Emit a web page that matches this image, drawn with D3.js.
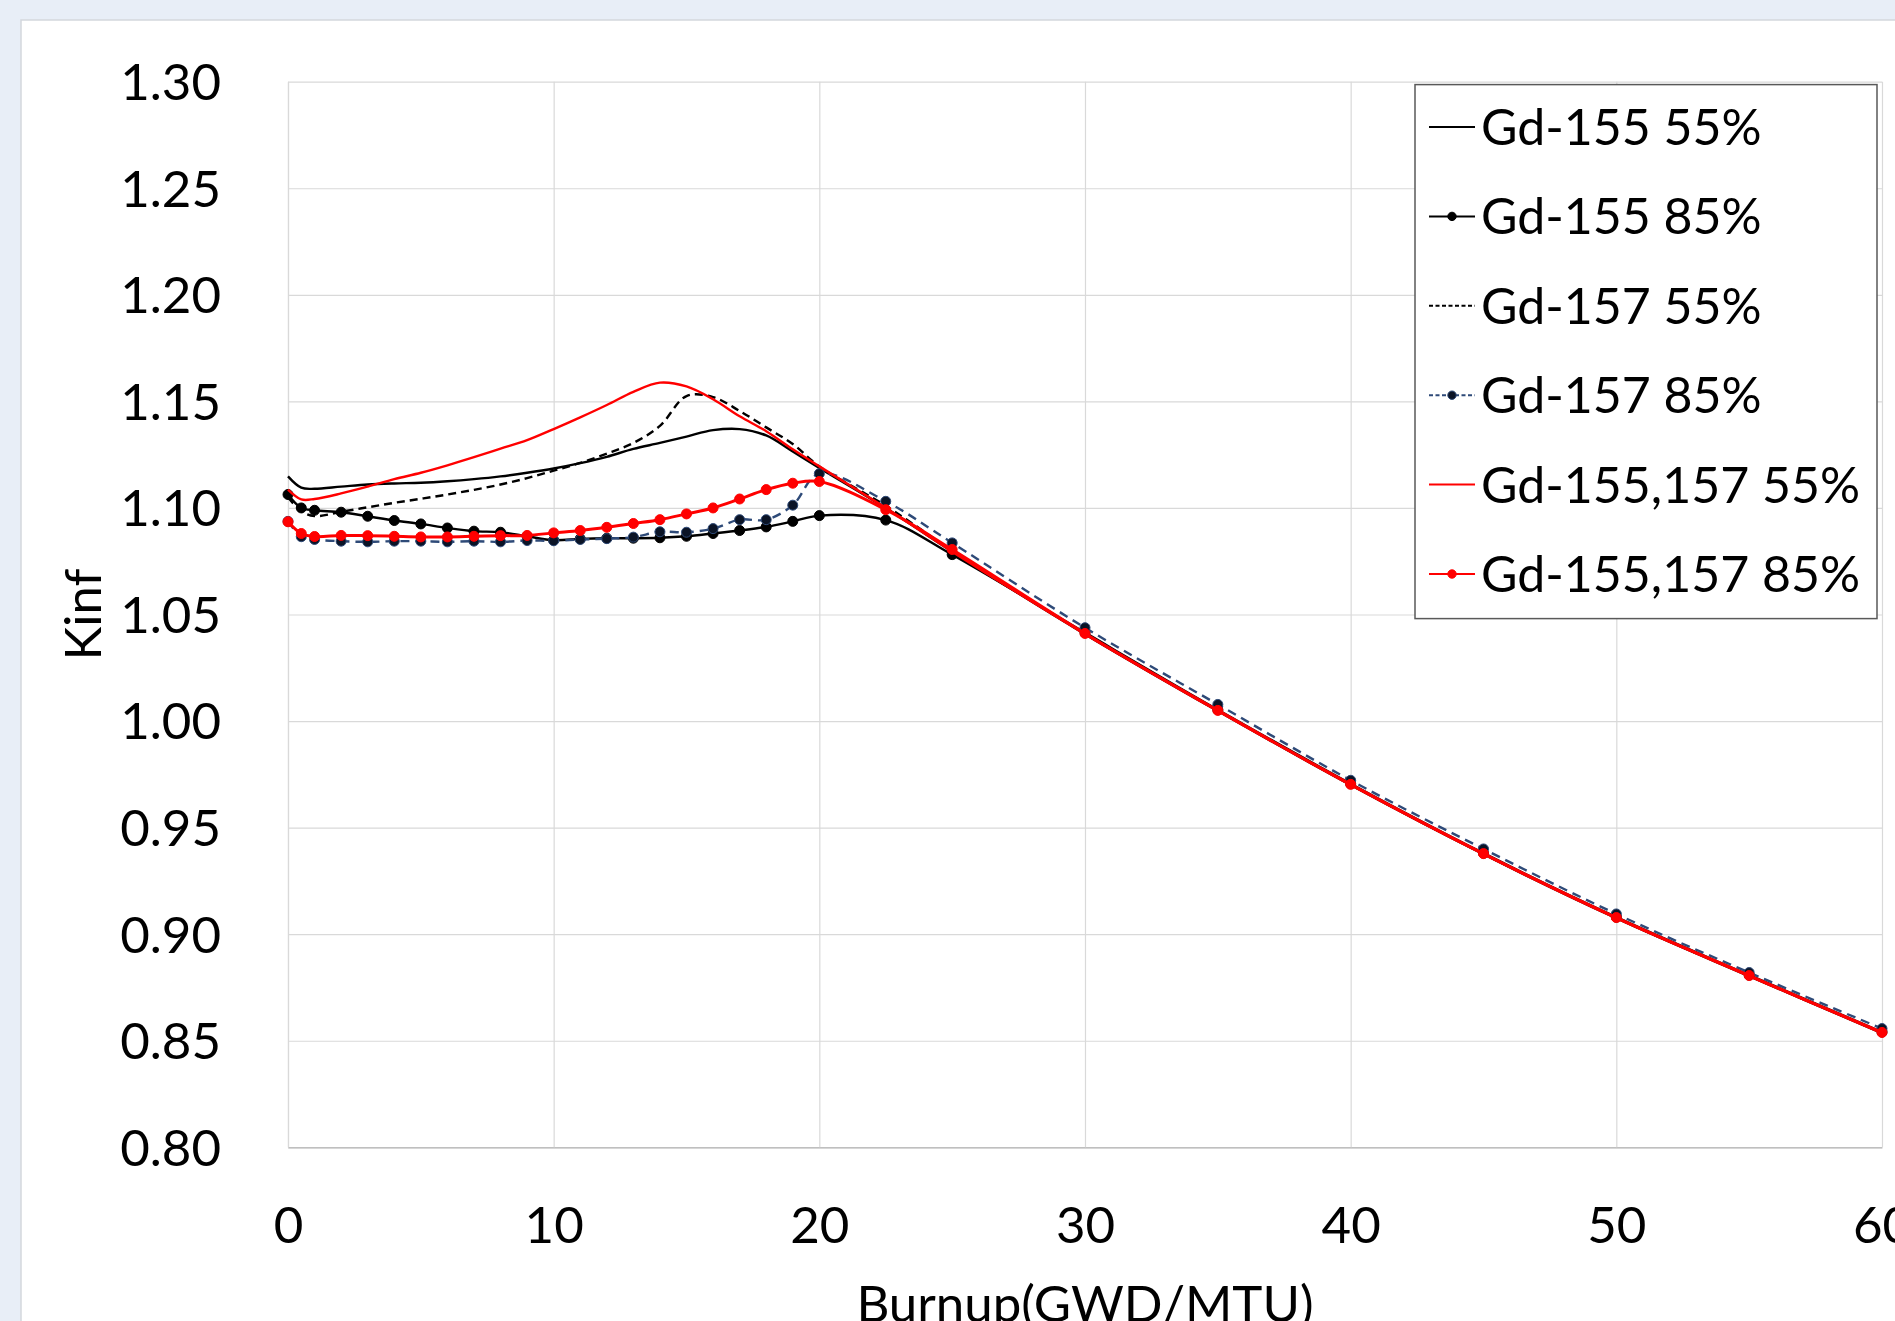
<!DOCTYPE html>
<html>
<head>
<meta charset="utf-8">
<script src="https://cdn.jsdelivr.net/npm/d3@7"></script>
<style>
  html, body { margin: 0; padding: 0; background: #e8eef7; }
  svg { display: block; }
  text { font-family: Lato, "Noto Sans", sans-serif; fill: #000; }
</style>
</head>
<body>
<div id="chart"></div>
<script>
// burnup points (GWD/MTU)
const burnup = [0, 0.5, 1, 2, 3, 4, 5, 6, 7, 8, 9, 10, 11, 12, 13, 14, 15, 16, 17, 18, 19, 20, 22.5, 25, 30, 35, 40, 45, 50, 55, 60];

const gd155_55 = [1.1148, 1.1095, 1.1090, 1.1100, 1.1110, 1.1115, 1.1118, 1.1125, 1.1135, 1.1148, 1.1165, 1.1185, 1.1210, 1.1240, 1.1277, 1.1305, 1.1335, 1.1365, 1.1370, 1.1340, 1.1265, 1.1188, 1.1000, 1.0795, 1.0408, 1.0047, 0.9700, 0.9375, 0.9075, 0.8803, 0.8536];
const gd155_85 = [1.1063, 1.1000, 1.0989, 1.0980, 1.0961, 1.0941, 1.0925, 1.0906, 1.0891, 1.0886, 1.0867, 1.0849, 1.0855, 1.0858, 1.0858, 1.0860, 1.0867, 1.0880, 1.0894, 1.0911, 1.0937, 1.0964, 1.0943, 1.0781, 1.0415, 1.0053, 0.9706, 0.9380, 0.9080, 0.8808, 0.8541];
const gd157_55 = [1.1050, 1.0985, 1.0962, 1.0982, 1.1003, 1.1024, 1.1043, 1.1063, 1.1085, 1.1110, 1.1140, 1.1175, 1.1211, 1.1255, 1.1305, 1.1385, 1.1525, 1.1520, 1.1455, 1.1378, 1.1300, 1.1195, 1.1010, 1.0800, 1.0410, 1.0050, 0.9702, 0.9377, 0.9077, 0.8805, 0.8538];
const gd157_85 = [1.0937, 1.0865, 1.0852, 1.0844, 1.0841, 1.0844, 1.0844, 1.0841, 1.0844, 1.0841, 1.0847, 1.0846, 1.0852, 1.0856, 1.0863, 1.0888, 1.0886, 1.0903, 1.0945, 1.0945, 1.1013, 1.1161, 1.1031, 1.0836, 1.0438, 1.0078, 0.9722, 0.9400, 0.9095, 0.8820, 0.8557];
const gd155157_55 = [1.1086, 1.1040, 1.1042, 1.1068, 1.1100, 1.1135, 1.1165, 1.1200, 1.1238, 1.1278, 1.1318, 1.1370, 1.1425, 1.1483, 1.1545, 1.1588, 1.1570, 1.1510, 1.1430, 1.1360, 1.1275, 1.1195, 1.1000, 1.0795, 1.0408, 1.0047, 0.9700, 0.9375, 0.9075, 0.8803, 0.8536];
const gd155157_85 = [1.0935, 1.0880, 1.0866, 1.0871, 1.0870, 1.0867, 1.0864, 1.0864, 1.0867, 1.0870, 1.0871, 1.0883, 1.0894, 1.0909, 1.0927, 1.0945, 1.0972, 1.1000, 1.1042, 1.1086, 1.1116, 1.1124, 1.0992, 1.0805, 1.0411, 1.0050, 0.9703, 0.9378, 0.9078, 0.8806, 0.8539];

const seriesNames = ["Gd-155 55%", "Gd-155 85%", "Gd-157 55%", "Gd-157 85%", "Gd-155,157 55%", "Gd-155,157 85%"];
const xTicks = [0, 10, 20, 30, 40, 50, 60];
const yTicks = [0.80, 0.85, 0.90, 0.95, 1.00, 1.05, 1.10, 1.15, 1.20, 1.25, 1.30];

const series = [
  { name: seriesNames[0], values: gd155_55, color: "#000", dash: null, marker: false, lw: 2.4 },
  { name: seriesNames[1], values: gd155_85, color: "#000", dash: null, marker: true, mfill: "#000", lw: 2.4 },
  { name: seriesNames[2], values: gd157_55, color: "#000", dash: "8,5", marker: false, lw: 2.4 },
  { name: seriesNames[3], values: gd157_85, color: "#2e4a78", dash: "9,6", marker: true, mfill: "#0b1426", lw: 2.4 },
  { name: seriesNames[4], values: gd155157_55, color: "#ff0000", dash: null, marker: false, lw: 2.4 },
  { name: seriesNames[5], values: gd155157_85, color: "#ff0000", dash: null, marker: true, mfill: "#ff0000", lw: 3 },
];

const width = 1895, height = 1321;
const plotL = 288, plotR = 1882, plotT = 81.7, plotB = 1147.3;

const svg = d3.select("#chart").append("svg")
  .attr("width", width)
  .attr("height", height);

svg.append("rect")
  .attr("x", 0).attr("y", 0).attr("width", width).attr("height", height)
  .attr("fill", "#e8eef7");

// chart area
svg.append("rect")
  .attr("x", 21).attr("y", 20).attr("width", width).attr("height", height)
  .attr("fill", "#fff")
  .attr("stroke", "#d3d7dd")
  .attr("stroke-width", 1.5);

const x = d3.scaleLinear().domain([0, 60]).range([plotL, plotR]);
const y = d3.scaleLinear().domain([0.8, 1.3]).range([plotB, plotT]);

const yAxis = svg.append("g")
  .attr("transform", `translate(${plotL},0)`)
  .call(d3.axisLeft(y).tickValues(yTicks).tickFormat(d3.format(".2f"))
    .tickSize(-(plotR - plotL)).tickSizeOuter(0).tickPadding(67));
yAxis.selectAll(".tick line").attr("stroke", "#d9d9d9").attr("stroke-width", 1.2);
yAxis.select(".domain").attr("stroke", "#d9d9d9").attr("stroke-width", 1.2);
yAxis.selectAll("text").style("font-size", "51px").attr("dy", "0.35em");

const xAxis = svg.append("g")
  .attr("transform", `translate(0,${plotB})`)
  .call(d3.axisBottom(x).tickValues(xTicks).tickFormat(d3.format("d"))
    .tickSize(-(plotB - plotT)).tickSizeOuter(0).tickPadding(59.5));
xAxis.selectAll(".tick line").attr("stroke", "#d9d9d9").attr("stroke-width", 1.2);
xAxis.select(".domain").attr("stroke", "#bfbfbf").attr("stroke-width", 1.5);
xAxis.selectAll("text").style("font-size", "51px");

svg.selectAll(".domain, .tick line").attr("fill", "none");

// axis titles
svg.append("text")
  .attr("transform", `translate(101,${(plotT + plotB) / 2}) rotate(-90)`)
  .attr("text-anchor", "middle")
  .style("font-size", "51px")
  .text("Kinf");

svg.append("text")
  .attr("x", (plotL + plotR) / 2)
  .attr("y", 1322)
  .attr("text-anchor", "middle")
  .style("font-size", "51px")
  .text("Burnup(GWD/MTU)");

// lines
const line = d3.line()
  .x((d) => x(d[0]))
  .y((d) => y(d[1]))
  .curve(d3.curveCatmullRom.alpha(0.5));

const plot = svg.append("g");
series.forEach((s) => {
  const pts = burnup.map((b, i) => [b, s.values[i]]);
  const g = plot.append("g");
  g.append("path")
    .attr("d", line(pts))
    .attr("fill", "none")
    .attr("stroke", s.color)
    .attr("stroke-width", s.lw)
    .attr("stroke-dasharray", s.dash);
  if (s.marker) {
    g.selectAll("circle")
      .data(pts)
      .enter()
      .append("circle")
      .attr("cx", (d) => x(d[0]))
      .attr("cy", (d) => y(d[1]))
      .attr("r", 5)
      .attr("fill", s.mfill)
      .attr("stroke", s.color)
      .attr("stroke-width", 1);
  }
});

// legend
const legend = svg.append("g");
legend.append("rect")
  .attr("x", 1415).attr("y", 84.6)
  .attr("width", 462).attr("height", 534)
  .attr("fill", "#fff")
  .attr("stroke", "#595959")
  .attr("stroke-width", 1.5);

series.forEach((s, i) => {
  const cy = 127 + i * 89.4;
  legend.append("line")
    .attr("x1", 1429).attr("x2", 1475)
    .attr("y1", cy).attr("y2", cy)
    .attr("stroke", s.color)
    .attr("stroke-width", 2)
    .attr("stroke-dasharray", s.dash ? "4,2.5" : null);
  if (s.marker) {
    legend.append("circle")
      .attr("cx", 1452).attr("cy", cy).attr("r", 4.2)
      .attr("fill", s.mfill)
      .attr("stroke", s.color);
  }
  legend.append("text")
    .attr("x", 1481)
    .attr("y", cy + 18)
    .style("font-size", "50px")
    .text(s.name);
});
</script>
</body>
</html>
